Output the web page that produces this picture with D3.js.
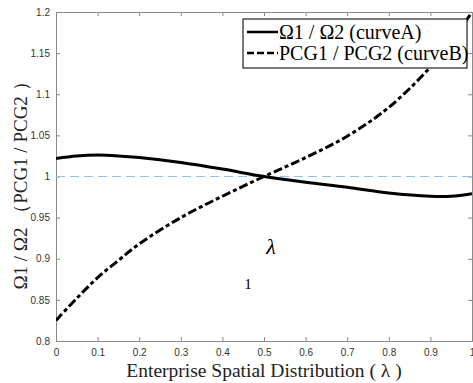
<!DOCTYPE html>
<html>
<head>
<meta charset="utf-8">
<script src="https://cdn.jsdelivr.net/npm/d3@7"></script>
<style>
  body { margin: 0; background: #fff; }
  .tick text { font-family: "Liberation Sans", Arial, sans-serif; font-size: 10px; fill: #333; }
</style>
</head>
<body>
<div id="chart"></div>
<script>
// lambda samples and the two ratio curves
var lambdas = [0, 0.05, 0.1, 0.15, 0.2, 0.3, 0.4, 0.5, 0.6, 0.7, 0.8, 0.9, 0.95, 1.0];
var curveA = [1.022, 1.025, 1.026, 1.025, 1.023, 1.017, 1.009, 1.000, 0.993, 0.987, 0.980, 0.976, 0.976, 0.979];
var curveB = [0.825, 0.852, 0.877, 0.898, 0.918, 0.950, 0.976, 1.000, 1.023, 1.049, 1.084, 1.133, 1.164, 1.200];
var xTicks = [0, 0.1, 0.2, 0.3, 0.4, 0.5, 0.6, 0.7, 0.8, 0.9, 1];
var yTicks = [0.8, 0.85, 0.9, 0.95, 1, 1.05, 1.1, 1.15, 1.2];
var legendNames = ['\u03A91 / \u03A92 (curveA)', 'PCG1 / PCG2 (curveB)'];

var width = 473, height = 383;
// plot box edges (note: "top" is reserved on window, so prefixed names)
var plotL = 56, plotR = 472, plotT = 12, plotB = 341;

var svg = d3.select('#chart').append('svg')
  .attr('width', width)
  .attr('height', height);

var x = d3.scaleLinear().domain([0, 1]).range([plotL, plotR]);
var y = d3.scaleLinear().domain([0.8, 1.2]).range([plotB, plotT]);

/* axes, MATLAB style box with inward ticks */
var axisColor = '#8a8a8a';
var xAxis = d3.axisBottom(x).tickValues(xTicks).tickSize(-4).tickPadding(8)
  .tickFormat(d => d === 0 || d === 1 ? d3.format('d')(d) : d3.format('.1f')(d));
var yAxis = d3.axisLeft(y).tickValues(yTicks).tickSize(-4).tickPadding(6)
  .tickFormat(d => String(+d.toFixed(2)));

var gx = svg.append('g').attr('transform', `translate(0,${plotB})`).call(xAxis);
var gy = svg.append('g').attr('transform', `translate(${plotL},0)`).call(yAxis);
var gxTop = svg.append('g').attr('transform', `translate(0,${plotT})`)
  .call(d3.axisTop(x).tickValues(xTicks).tickSize(-4).tickFormat(''));
var gyRight = svg.append('g').attr('transform', `translate(${plotR},0)`)
  .call(d3.axisRight(y).tickValues(yTicks).tickSize(-4).tickFormat(''));
[gx, gy, gxTop, gyRight].forEach(g => {
  g.select('.domain').attr('stroke', axisColor);
  g.selectAll('.tick line').attr('stroke', axisColor);
});

/* reference line at 1 */
svg.append('line')
  .attr('x1', x(0)).attr('x2', x(1))
  .attr('y1', y(1)).attr('y2', y(1))
  .attr('stroke', '#8ec5ef')
  .attr('stroke-width', 1.2)
  .attr('stroke-dasharray', '9,5');

svg.append('clipPath').attr('id', 'plotClip')
  .append('rect').attr('x', plotL).attr('y', plotT - 2)
  .attr('width', plotR - plotL).attr('height', plotB - plotT + 2);

var line = d3.line()
  .x((d, i) => x(lambdas[i]))
  .y(d => y(d))
  .curve(d3.curveCatmullRom.alpha(0.5));

var plot = svg.append('g').attr('clip-path', 'url(#plotClip)');
plot.append('path')
  .attr('d', line(curveA))
  .attr('fill', 'none')
  .attr('stroke', '#000')
  .attr('stroke-width', 3);
plot.append('path')
  .attr('d', line(curveB))
  .attr('fill', 'none')
  .attr('stroke', '#000')
  .attr('stroke-width', 3)
  .attr('stroke-dasharray', '9,3,4,3');

/* stray labels inside the plot */
svg.append('text')
  .attr('x', 271).attr('y', 254)
  .attr('text-anchor', 'middle')
  .attr('font-family', 'Liberation Serif, serif')
  .attr('font-style', 'italic')
  .attr('font-size', 22)
  .text('\u03BB');
svg.append('text')
  .attr('x', 248).attr('y', 289)
  .attr('text-anchor', 'middle')
  .attr('font-family', 'Liberation Serif, serif')
  .attr('font-size', 15)
  .text('1');

/* legend */
var legend = svg.append('g').attr('transform', 'translate(243,19)');
legend.append('rect')
  .attr('width', 224).attr('height', 49)
  .attr('fill', '#fff')
  .attr('stroke', '#222')
  .attr('stroke-width', 1.2);
var item = legend.selectAll('g.item')
  .data(legendNames).enter()
  .append('g')
  .attr('class', 'item')
  .attr('transform', (d, i) => `translate(0,${13 + i * 21})`);
item.append('line')
  .attr('x1', 4).attr('x2', 35)
  .attr('stroke', '#000')
  .attr('stroke-width', 2.5)
  .attr('stroke-dasharray', (d, i) => i === 0 ? null : '7,3');
item.append('text')
  .attr('x', 36).attr('y', 7)
  .attr('font-family', 'Liberation Serif, serif')
  .attr('font-size', 20)
  .text(d => d);

/* axis titles */
svg.append('text')
  .attr('x', (plotL + plotR) / 2).attr('y', 377)
  .attr('text-anchor', 'middle')
  .attr('font-family', 'Liberation Serif, serif')
  .attr('font-size', 19.5)
  .attr('fill', '#222')
  .text('Enterprise Spatial Distribution ( \u03BB )');
svg.append('text')
  .attr('transform', 'translate(27,181) rotate(-90)')
  .attr('text-anchor', 'middle')
  .attr('font-family', 'Liberation Serif, serif')
  .attr('font-size', 19)
  .attr('fill', '#222')
  .text('\u03A91 / \u03A92 \uFF08PCG1 / PCG2 \uFF09');
</script>
</body>
</html>
